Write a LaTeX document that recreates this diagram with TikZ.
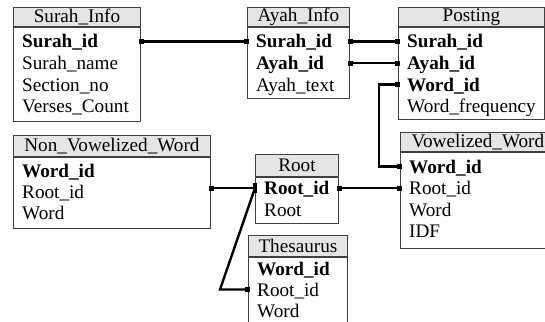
\documentclass[tikz,border=0pt]{standalone}
\usepackage{fontspec}
\setmainfont{Liberation Serif}
\newfontfamily\erdfont{Liberation Serif}
\usetikzlibrary{arrows.meta,calc}

\begin{document}
\begin{tikzpicture}[x=1pt,y=-1pt,
  hdr/.style={draw=black!75,fill=black!10,line width=0.9pt,anchor=north west,inner sep=0pt,font=\erdfont\fontsize{19.2}{21}\selectfont},
  tbl/.style={draw=black!75,line width=0.9pt,anchor=north west,inner sep=0pt},
  fld/.style={anchor=west,inner sep=0pt,text height=13pt,text depth=0pt,font=\erdfont\fontsize{19.2}{21}\selectfont},
  key/.style={fld,font=\erdfont\fontsize{19.2}{21}\selectfont\bfseries},
  link/.style={line width=2.4pt,shorten <=-2pt,shorten >=-2pt,{Square[length=5pt,width=5pt]}-{Square[length=5pt,width=5pt]}}]
\clip (0,0) rectangle (545,321);
\node[hdr,minimum width=127pt,minimum height=19pt] (si-hd) at (13,7) {Surah\_Info};
\node[tbl,minimum width=127pt,minimum height=94pt] (si-box) at (si-hd.south west) {};
\node[key] (si-sid) at (22,41.5) {Surah\_id};
\node[fld] (si-snm) at (22,63) {Surah\_name};
\node[fld] (si-sec) at (22,84.5) {Section\_no};
\node[fld] (si-cnt) at (22,106) {Verses\_Count};
\node[hdr,minimum width=102pt,minimum height=19pt] (ai-hd) at (247,7) {Ayah\_Info};
\node[tbl,minimum width=102pt,minimum height=71pt] (ai-box) at (ai-hd.south west) {};
\node[key] (ai-sid) at (256,41.5) {Surah\_id};
\node[key] (ai-aid) at (256,63) {Ayah\_id};
\node[fld] (ai-txt) at (256,84.5) {Ayah\_text};
\node[hdr,minimum width=146pt,minimum height=19pt] (po-hd) at (398,7) {Posting};
\node[tbl,minimum width=146pt,minimum height=92pt] (po-box) at (po-hd.south west) {};
\node[key] (po-sid) at (407,41.5) {Surah\_id};
\node[key] (po-aid) at (407,63) {Ayah\_id};
\node[key] (po-wid) at (407,84.5) {Word\_id};
\node[fld] (po-frq) at (407,106) {Word\_frequency};
\node[hdr,minimum width=155pt,minimum height=19pt] (vw-hd) at (400,132) {Vowelized\_Word};
\node[tbl,minimum width=155pt,minimum height=96pt] (vw-box) at (vw-hd.south west) {};
\node[key] (vw-wid) at (409,166.5) {Word\_id};
\node[fld] (vw-rid) at (409,188) {Root\_id};
\node[fld] (vw-wrd) at (409,209.5) {Word};
\node[fld] (vw-idf) at (409,231) {IDF};
\node[hdr,minimum width=197pt,minimum height=21pt] (nv-hd) at (13,135) {Non\_Vowelized\_Word};
\node[tbl,minimum width=197pt,minimum height=71pt] (nv-box) at (nv-hd.south west) {};
\node[key] (nv-wid) at (22,170.5) {Word\_id};
\node[fld] (nv-rid) at (22,191.5) {Root\_id};
\node[fld] (nv-wrd) at (22,212.5) {Word};
\node[hdr,minimum width=83pt,minimum height=22pt] (rt-hd) at (255,154) {Root};
\node[tbl,minimum width=83pt,minimum height=46pt] (rt-box) at (rt-hd.south west) {};
\node[key] (rt-rid) at (264,188) {Root\_id};
\node[fld] (rt-nm) at (264,209.5) {Root};
\node[hdr,minimum width=99pt,minimum height=21pt] (th-hd) at (248,235) {Thesaurus};
\node[tbl,minimum width=99pt,minimum height=84pt] (th-box) at (th-hd.south west) {};
\node[key] (th-wid) at (257,268.5) {Word\_id};
\node[fld] (th-rid) at (257,289.5) {Root\_id};
\node[fld] (th-wrd) at (257,310.5) {Word};
\draw[link] (si-box.east |- si-sid) -- (ai-box.west |- ai-sid);
\draw[link] (ai-box.east |- ai-sid) -- (po-box.west |- po-sid);
\draw[link] (ai-box.east |- ai-aid) -- (po-box.west |- po-aid);
\draw[link] (po-box.west |- po-wid) -- ++(-19,0) |- (vw-box.west |- vw-wid);
\draw[link] (rt-box.east |- rt-rid) -- (vw-box.west |- vw-rid);
\draw[link,{Square[length=5pt,width=5pt]}-{Square[length=4.5pt,width=10pt]}] (nv-box.east |- rt-rid) -- (rt-box.west |- rt-rid);
\draw[link,-{Square[length=5pt,width=5pt]}] (rt-box.west |- rt-rid) -- ($(th-box.west |- th-rid)+(-28,0)$) -- (th-box.west |- th-rid);
\end{tikzpicture}
\end{document}
